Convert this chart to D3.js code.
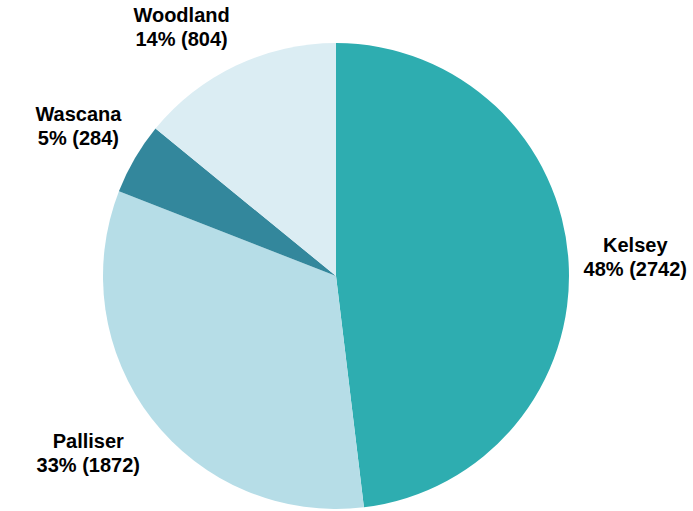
<!DOCTYPE html>
<html>
<head>
<meta charset="utf-8">
<script src="https://cdn.jsdelivr.net/npm/d3@7"></script>
<style>
  body { margin: 0; background: #fff; }
  svg text { font-family: "Liberation Sans", Arial, sans-serif; font-weight: bold; font-size: 20px; fill: #000; }
</style>
</head>
<body>
<div id="chart"></div>
<script>
  // Data
  const regions = ["Kelsey", "Palliser", "Wascana", "Woodland"];
  const counts = [2742, 1872, 284, 804];
  const sliceColors = ["#2eadb0", "#b6dde7", "#33879c", "#dbedf3"];

  const width = 693, height = 511;
  const cx = 336, cy = 276, radius = 233;

  const svg = d3.select("#chart").append("svg")
    .attr("width", width)
    .attr("height", height);

  const total = d3.sum(counts);
  const rows = regions.map((name, i) => ({ name, value: counts[i], color: sliceColors[i] }));

  const pie = d3.pie()
    .value(d => d.value)
    .sort(null);

  const arc = d3.arc()
    .innerRadius(0)
    .outerRadius(radius);

  const g = svg.append("g")
    .attr("transform", `translate(${cx}, ${cy})`);

  const arcs = pie(rows);

  g.selectAll("path")
    .data(arcs)
    .enter()
    .append("path")
    .attr("d", arc)
    .attr("fill", d => d.data.color);

  // labels sit just outside the rim, box pushed away from the pie
  const labelGap = 15;
  const lineH = 24;

  const labels = g.selectAll("g.label")
    .data(arcs)
    .enter()
    .append("g")
    .attr("class", "label");

  labels.append("text")
    .attr("text-anchor", "middle")
    .attr("y", -lineH / 2 + 7)
    .text(d => d.data.name);

  labels.append("text")
    .attr("text-anchor", "middle")
    .attr("y", lineH / 2 + 7)
    .text(d => `${Math.round(d.data.value / total * 100)}% (${d.data.value})`);

  labels.attr("transform", function (d) {
    const a = (d.startAngle + d.endAngle) / 2;
    const sx = Math.sin(a), sy = -Math.cos(a);
    const bb = this.getBBox();
    const w = bb.width, h = 2 * lineH + 2;
    const px = sx * (radius + labelGap);
    const py = sy * (radius + labelGap);
    const clamp = v => Math.max(-1, Math.min(1, v * 2.5));
    const x = px + (w / 2) * clamp(sx);
    const y = py + (h / 2) * clamp(sy);
    return `translate(${x}, ${y})`;
  });
</script>
</body>
</html>
